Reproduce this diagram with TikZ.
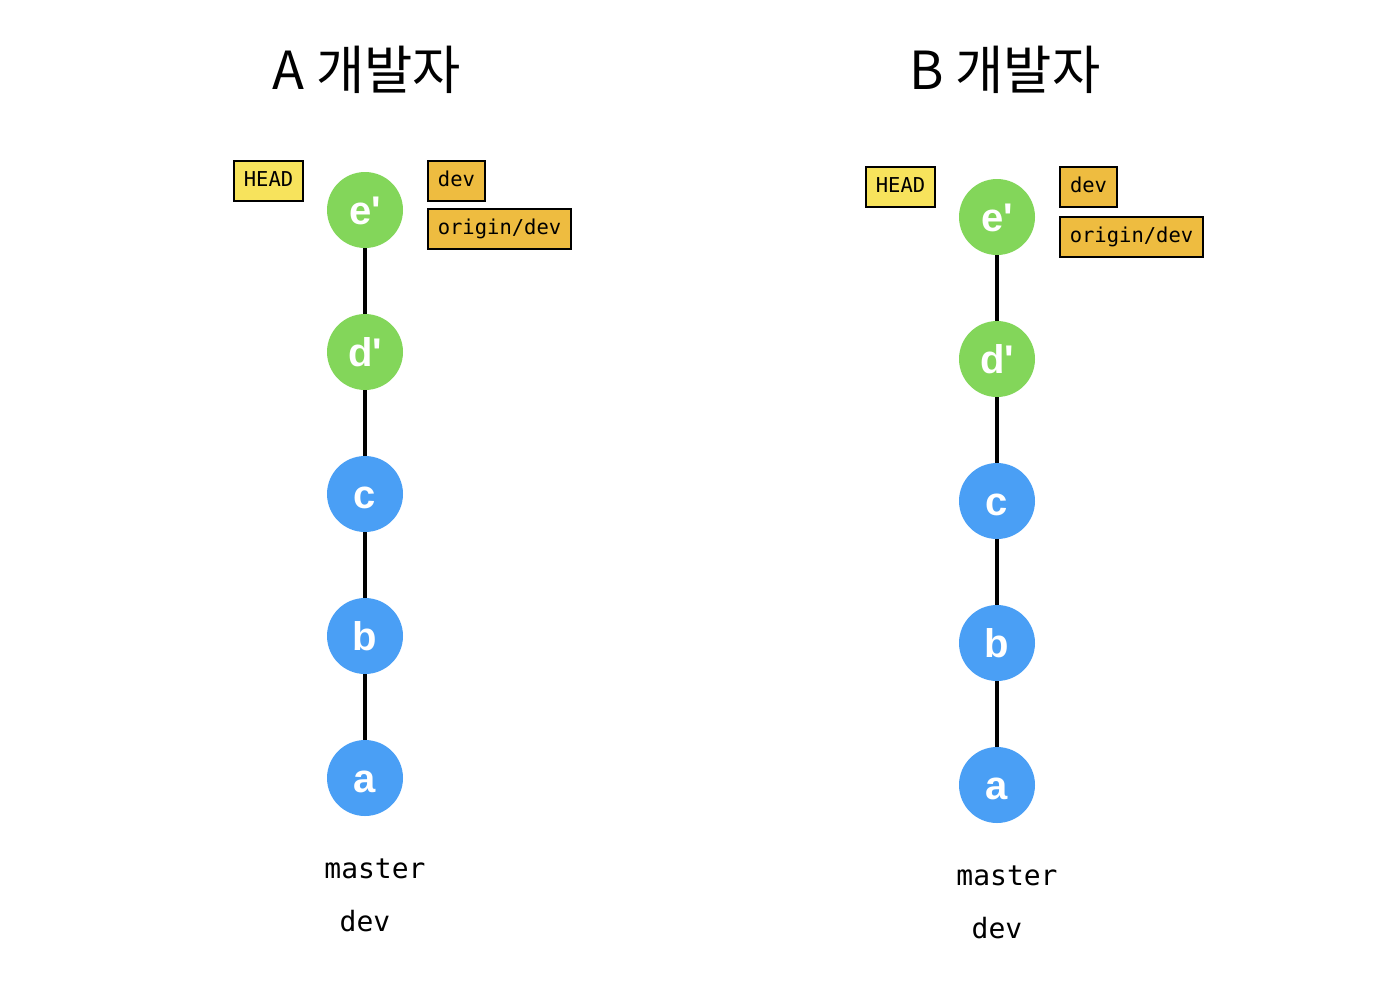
\documentclass[tikz,border=0pt]{standalone}
\usepackage{fontspec}
\setmainfont{Liberation Sans}
\setmonofont{DejaVu Sans Mono}
\newfontfamily\krfont{Noto Sans CJK KR}
\newfontfamily\circfont{Liberation Sans}
\definecolor{cgreen}{HTML}{83D65A}
\definecolor{cblue}{HTML}{4A9FF5}
\definecolor{cyellow}{HTML}{F7E35C}
\definecolor{corange}{HTML}{EEBC40}
\tikzset{
  commit/.style={circle, minimum size=76pt, inner sep=0pt, text=white, text height=29pt, text depth=0pt, font=\circfont\bfseries\fontsize{40}{42}\selectfont},
  commitG/.style={commit, fill=cgreen},
  commitB/.style={commit, fill=cblue},
  reflabel/.style={draw=black, line width=2pt, minimum height=40pt, inner xsep=10pt, inner ysep=0pt, text height=15pt, text depth=4pt, font=\ttfamily\fontsize{20.5}{22}\selectfont},
  headbox/.style={reflabel, fill=cyellow},
  branchbox/.style={reflabel, fill=corange},
  link/.style={line width=3.5pt, black},
  title/.style={font=\krfont\fontsize{52.5}{58}\selectfont},
  plain/.style={font=\ttfamily\fontsize{28}{32}\selectfont},
}
\begin{document}
\begin{tikzpicture}[x=1pt,y=-1pt]
\useasboundingbox (0,0) rectangle (1392,986);
% A
\node[title] (tA) at (367,70) {A 개발자};
\node[commitG] (Ae) at (365,210) {e'};
\node[commitG] (Ad) at (365,352) {d'};
\node[commitB] (Ac) at (365,494) {c};
\node[commitB] (Ab) at (365,636) {b};
\node[commitB] (Aa) at (365,778) {a};
\draw[link] (Ae) -- (Ad);
\draw[link] (Ad) -- (Ac);
\draw[link] (Ac) -- (Ab);
\draw[link] (Ab) -- (Aa);
\node[headbox] (Ahead) at (268.5,181) {HEAD};
\node[branchbox] (Adev) at (456.5,181) {dev};
\node[branchbox] (Aorig) at (499.5,229) {origin/dev};
\node[plain] (Amaster) at (375,869) {master};
\node[plain] (Adev2) at (365,921) {dev};
% B
\node[title] (tB) at (1005,70) {B 개발자};
\node[commitG] (Be) at (997,217) {e'};
\node[commitG] (Bd) at (997,359) {d'};
\node[commitB] (Bc) at (997,501) {c};
\node[commitB] (Bb) at (997,643) {b};
\node[commitB] (Ba) at (997,785) {a};
\draw[link] (Be) -- (Bd);
\draw[link] (Bd) -- (Bc);
\draw[link] (Bc) -- (Bb);
\draw[link] (Bb) -- (Ba);
\node[headbox] (Bhead) at (900.5,187) {HEAD};
\node[branchbox] (Bdev) at (1088.5,187) {dev};
\node[branchbox] (Borig) at (1131.5,237) {origin/dev};
\node[plain] (Bmaster) at (1007,876) {master};
\node[plain] (Bdev2) at (997,928) {dev};
\end{tikzpicture}
\end{document}
